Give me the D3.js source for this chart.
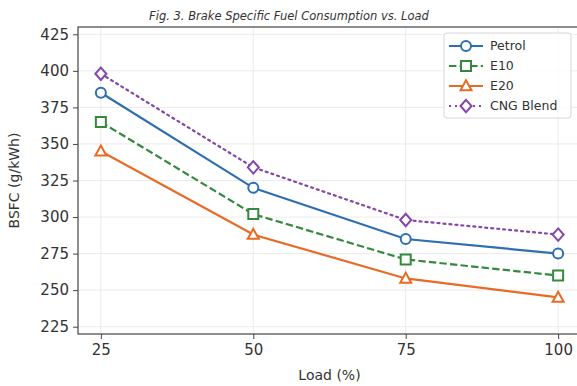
<!DOCTYPE html>
<html>
<head>
<meta charset="utf-8">
<script src="https://cdn.jsdelivr.net/npm/d3@7"></script>
<style>
  body { margin: 0; background: #fff; }
  svg { display: block; font-family: "DejaVu Sans", sans-serif; }
</style>
</head>
<body>
<div id="chart"></div>
<script>
// data
const loads = [25, 50, 75, 100];
const petrol = [385, 320, 285, 275];
const e10 = [365, 302, 271, 260];
const e20 = [345, 288, 258, 245];
const cngBlend = [398, 334, 298, 288];
const seriesNames = ["Petrol", "E10", "E20", "CNG Blend"];
const yTicks = [225, 250, 275, 300, 325, 350, 375, 400, 425];

const W = 577, H = 386;
const margin = { top: 27, right: -4, bottom: 52, left: 78 };

const x = d3.scaleLinear()
  .domain([21.25, 103.75])
  .range([margin.left, W - margin.right]);

const y = d3.scaleLinear()
  .domain([220, 430])
  .range([H - margin.bottom, margin.top]);

const styles = [
  { color: "#2d6fb0", dash: null, marker: "circle" },
  { color: "#34893f", dash: "7.4,3.2", marker: "square" },
  { color: "#e86b25", dash: null, marker: "triangle" },
  { color: "#8446a8", dash: "2,4", marker: "diamond" }
];
const seriesValues = [petrol, e10, e20, cngBlend];

const svg = d3.select("#chart").append("svg")
  .attr("width", W)
  .attr("height", H);

// grid
const grid = svg.append("g").attr("stroke", "#e6e6e6").attr("stroke-width", 0.8);
grid.selectAll("line.gx").data(loads).join("line")
  .attr("x1", d => x(d)).attr("x2", d => x(d))
  .attr("y1", y(220)).attr("y2", y(430));
grid.selectAll("line.gy").data(yTicks).join("line")
  .attr("x1", x(21.25)).attr("x2", x(103.75))
  .attr("y1", d => y(d)).attr("y2", d => y(d));

// axes
const xAxis = svg.append("g")
  .attr("transform", `translate(0,${y(220)})`)
  .call(d3.axisBottom(x).tickValues(loads).tickSize(5).tickPadding(5).tickSizeOuter(0));
const yAxis = svg.append("g")
  .attr("transform", `translate(${x(21.25)},0)`)
  .call(d3.axisLeft(y).tickValues(yTicks).tickSize(5).tickPadding(4).tickSizeOuter(0));
[xAxis, yAxis].forEach(a => {
  a.select(".domain").remove();
  a.selectAll("line").attr("stroke", "#444").attr("stroke-width", 1);
  a.selectAll("text").attr("fill", "#333").style("font-size", "15px")
    .style("font-family", "DejaVu Sans, sans-serif");
});

// frame
svg.append("rect")
  .attr("x", x(21.25)).attr("y", y(430))
  .attr("width", x(103.75) - x(21.25)).attr("height", y(220) - y(430))
  .attr("fill", "none").attr("stroke", "#444").attr("stroke-width", 1.2);

function markerPath(kind, s) {
  if (kind === "circle") return d3.symbol(d3.symbolCircle, s * s * Math.PI / 4)();
  if (kind === "square") return `M${-s/2},${-s/2}h${s}v${s}h${-s}Z`;
  if (kind === "triangle") { const h = s * 0.95; return `M0,${-h*0.6}L${s*0.55},${h*0.45}L${-s*0.55},${h*0.45}Z`; }
  return `M0,${-s*0.62}L${s*0.55},0L0,${s*0.62}L${-s*0.55},0Z`;
}

const line = d3.line().x((d, i) => x(loads[i])).y(d => y(d));

seriesValues.forEach((vals, k) => {
  const st = styles[k];
  svg.append("path")
    .datum(vals)
    .attr("fill", "none")
    .attr("stroke", st.color)
    .attr("stroke-width", 2.2)
    .attr("stroke-dasharray", st.dash)
    .attr("stroke-linecap", st.marker === "diamond" ? "round" : "butt")
    .attr("d", line);
  svg.selectAll(null).data(vals).join("path")
    .attr("transform", (d, i) => `translate(${x(loads[i])},${y(d)})`)
    .attr("d", markerPath(st.marker, 10))
    .attr("fill", "#fff")
    .attr("stroke", st.color)
    .attr("stroke-width", 2);
});

// legend
const leg = svg.append("g").attr("transform", "translate(444,33)");
leg.append("rect")
  .attr("width", 127).attr("height", 85).attr("rx", 3)
  .attr("fill", "#fff").attr("fill-opacity", 0.8)
  .attr("stroke", "#d8d8d8");
seriesNames.forEach((name, k) => {
  const st = styles[k];
  const row = leg.append("g").attr("transform", `translate(0,${13 + k * 20})`);
  row.append("line")
    .attr("x1", 5).attr("x2", 39)
    .attr("stroke", st.color).attr("stroke-width", 2.2)
    .attr("stroke-dasharray", st.dash);
  row.append("path")
    .attr("transform", "translate(22,0)")
    .attr("d", markerPath(st.marker, 10))
    .attr("fill", "#fff").attr("stroke", st.color).attr("stroke-width", 2);
  row.append("text")
    .attr("x", 46).attr("dy", "0.35em")
    .attr("fill", "#333")
    .style("font-size", "12.5px")
    .text(name);
});

// labels
svg.append("text")
  .attr("x", 289).attr("y", 20)
  .attr("text-anchor", "middle")
  .attr("fill", "#333")
  .style("font-size", "11.5px").style("font-style", "italic")
  .text("Fig. 3. Brake Specific Fuel Consumption vs. Load");

svg.append("text")
  .attr("x", (x(21.25) + x(103.75)) / 2).attr("y", 380)
  .attr("text-anchor", "middle")
  .attr("fill", "#333")
  .style("font-size", "14px")
  .text("Load (%)");

svg.append("text")
  .attr("transform", `translate(19,${(y(220) + y(430)) / 2}) rotate(-90)`)
  .attr("text-anchor", "middle")
  .attr("fill", "#333")
  .style("font-size", "14px")
  .text("BSFC (g/kWh)");
</script>
</body>
</html>
